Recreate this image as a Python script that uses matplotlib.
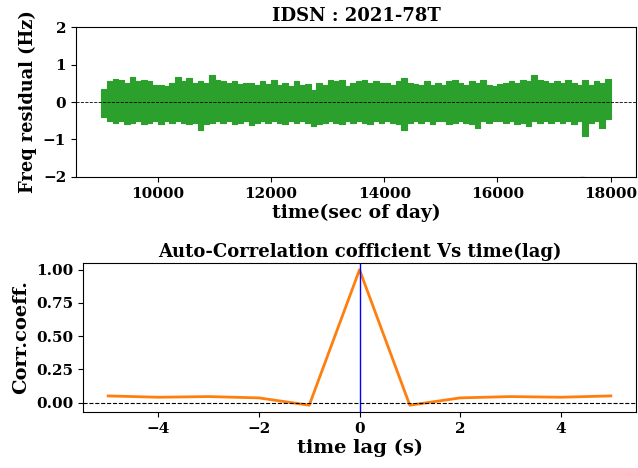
import matplotlib
matplotlib.use("Agg")
import matplotlib.pyplot as plt
from matplotlib.ticker import FormatStrFormatter
import numpy as np

plt.rcParams['font.family'] = 'DejaVu Serif'
plt.rcParams['font.weight'] = 'bold'

# frequency residual band, read as 100 s bins (upper / lower extremes)
t_start = 9000
t_bin = 100
res_hi = [0.35, 0.55, 0.62, 0.58, 0.50, 0.68, 0.55, 0.60, 0.55, 0.45,
          0.45, 0.42, 0.50, 0.68, 0.55, 0.65, 0.50, 0.55, 0.50, 0.72,
          0.58, 0.55, 0.50, 0.55, 0.48, 0.52, 0.50, 0.45, 0.55, 0.48,
          0.60, 0.45, 0.50, 0.42, 0.55, 0.45, 0.48, 0.32, 0.50, 0.45,
          0.60, 0.55, 0.58, 0.42, 0.50, 0.55, 0.60, 0.50, 0.55, 0.50,
          0.50, 0.45, 0.55, 0.65, 0.50, 0.48, 0.45, 0.55, 0.45, 0.50,
          0.45, 0.55, 0.60, 0.50, 0.45, 0.55, 0.50, 0.58, 0.45, 0.42,
          0.48, 0.50, 0.55, 0.50, 0.60, 0.55, 0.72, 0.60, 0.55, 0.50,
          0.55, 0.50, 0.60, 0.50, 0.45, 0.60, 0.45, 0.55, 0.50, 0.62]
res_lo = [-0.40, -0.50, -0.55, -0.50, -0.60, -0.55, -0.50, -0.60, -0.55, -0.50,
          -0.60, -0.50, -0.55, -0.50, -0.55, -0.60, -0.55, -0.75, -0.60, -0.55,
          -0.50, -0.55, -0.50, -0.60, -0.55, -0.50, -0.62, -0.55, -0.50, -0.55,
          -0.50, -0.55, -0.60, -0.50, -0.55, -0.50, -0.55, -0.65, -0.60, -0.55,
          -0.50, -0.55, -0.60, -0.50, -0.55, -0.50, -0.55, -0.60, -0.50, -0.55,
          -0.50, -0.55, -0.60, -0.75, -0.55, -0.50, -0.55, -0.50, -0.60, -0.50,
          -0.50, -0.60, -0.55, -0.50, -0.55, -0.60, -0.70, -0.50, -0.55, -0.50,
          -0.50, -0.55, -0.50, -0.60, -0.55, -0.65, -0.50, -0.55, -0.50, -0.55,
          -0.50, -0.55, -0.50, -0.60, -0.50, -0.92, -0.55, -0.50, -0.70, -0.45]
outlier_t = [17500]
outlier_v = [-2.0]

# autocorrelation
lags = [-5, -4, -3, -2, -1, 0, 1, 2, 3, 4, 5]
corr = [0.05, 0.04, 0.045, 0.035, -0.02, 1.0, -0.02, 0.035, 0.045, 0.04, 0.05]

t_edges = t_start + t_bin * np.arange(len(res_hi) + 1)
hi = np.append(res_hi, res_hi[-1])
lo = np.append(res_lo, res_lo[-1])

fig = plt.figure(figsize=(6.38, 4.68), dpi=100)

ax1 = fig.add_axes([0.1191, 0.6218, 0.8777, 0.3205])
ax1.fill_between(t_edges, lo, hi, step='post', color='#2ca02c', linewidth=0.8,
                 edgecolor='#2ca02c')
ax1.plot(outlier_t, outlier_v, marker='_', color='#2ca02c', markersize=3)
ax1.axhline(0, color='black', linestyle='--', linewidth=0.6)
ax1.set_ylim(-2, 2)
ax1.set_xlim(t_edges[0] - 450, t_edges[-1] + 450)
ax1.set_yticks([-2, -1, 0, 1, 2])
ax1.set_title("IDSN : 2021-78T", fontsize=13, fontweight='bold', pad=4)
ax1.set_xlabel("time(sec of day)", fontsize=13.5, fontweight='bold', labelpad=2)
ax1.set_ylabel("Freq residual (Hz)", fontsize=12.8, fontweight='bold')
ax1.tick_params(labelsize=11)

ax2 = fig.add_axes([0.1301, 0.1197, 0.8668, 0.3184])
ax2.plot(lags, corr, color='#ff7f0e', linewidth=2)
ax2.axvline(0, color='blue', linewidth=1)
ax2.axhline(0, color='black', linestyle='--', linewidth=0.8)
ax2.set_yticks([0, 0.25, 0.5, 0.75, 1.0])
ax2.yaxis.set_major_formatter(FormatStrFormatter('%.2f'))
ax2.set_title("Auto-Correlation cofficient Vs time(lag)", fontsize=13,
              fontweight='bold', pad=4)
ax2.set_xlabel("time lag (s)", fontsize=14, fontweight='bold', labelpad=2)
ax2.set_ylabel("Corr.coeff.", fontsize=14, fontweight='bold')
ax2.tick_params(labelsize=11)

fig.savefig("out.png", dpi=100)
